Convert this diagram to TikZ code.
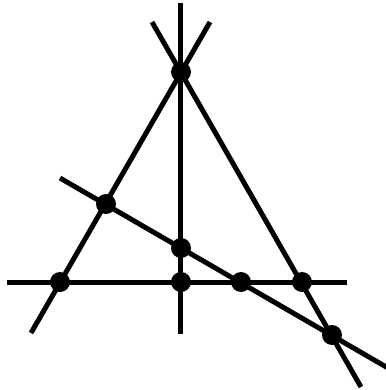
\documentclass[tikz,border=0pt]{standalone}
\usepackage{tikz}
\tikzset{
  dot/.style={circle, fill=black, inner sep=0pt, minimum size=0.4cm},
  line/.style={line width=0.1cm, black}
}
\begin{document}
\begin{tikzpicture}[x=0.02cm, y=-0.02cm]
    \useasboundingbox (0,0) rectangle (386,390);
    % free line ends
    \coordinate (vtop) at (181,3);
    \coordinate (vbot) at (181,334);
    \coordinate (ltop) at (210,22);
    \coordinate (lbot) at (31,333);
    \coordinate (rtop) at (152,22);
    \coordinate (rbot) at (361,387);
    \coordinate (hleft) at (7,282);
    \coordinate (hright) at (347,282);
    \coordinate (tleft) at (60,178);
    \coordinate (tright) at (388,368);
    \draw[line] (vtop) -- (vbot);
    \draw[line] (ltop) -- (lbot);
    \draw[line] (rtop) -- (rbot);
    \draw[line] (hleft) -- (hright);
    \draw[line] (tleft) -- (tright);
    % points on the figure
    \node[dot] (apex) at (181,72) {};
    \node[dot] (bl) at (60,282) {};
    \node[dot] (br) at (302,282) {};
    \node[dot] (bm) at (181,282) {};
    \node[dot] (pl) at (106,204) {};
    \node[dot] (pv) at (181,248) {};
    \node[dot] (pb) at (241,282) {};
    \node[dot] (pr) at (332,335) {};
  \end{tikzpicture}
\end{document}
